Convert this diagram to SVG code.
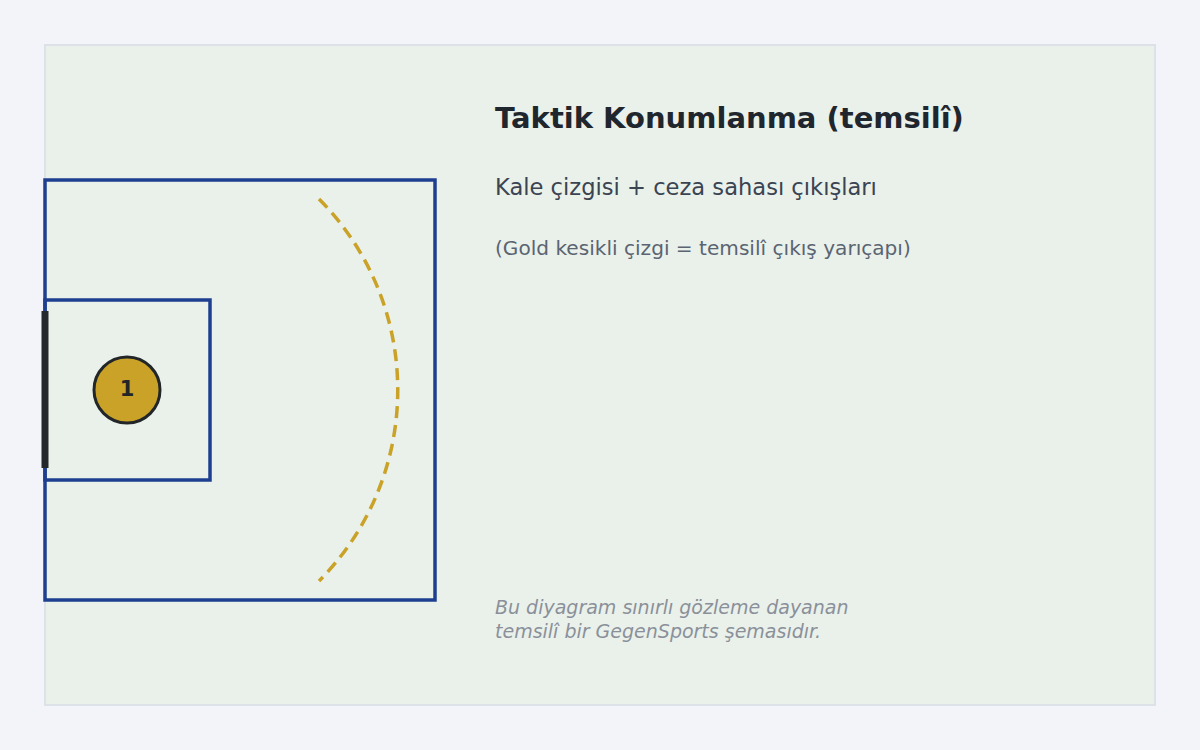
<svg xmlns="http://www.w3.org/2000/svg" width="1200" height="750" viewBox="0 0 1200 750">
<style>
.line{fill:none;stroke:#1E3F8F;stroke-width:3.5}
.t{font-family:"DejaVu Sans","Liberation Sans",sans-serif}
</style>
<rect x="0" y="0" width="1200" height="750" fill="#F3F4FA"/>
<rect x="45" y="45" width="1110" height="660" fill="#EAF1EA" stroke="#DDE1E8" stroke-width="2"/>
<g id="pitch">
<rect class="line" x="45" y="180" width="390" height="420"/>
<rect class="line" x="45" y="300" width="165" height="180"/>
<line x1="45" y1="311" x2="45" y2="468" stroke="#24272B" stroke-width="7"/>
</g>
<g id="connectors">
<path d="M 319 199 A 271 271 0 0 1 319 581" fill="none" stroke="#C9A227" stroke-width="3.5" stroke-dasharray="12 7"/>
</g>
<g id="keeper">
<circle cx="127" cy="390" r="33" fill="#C9A227" stroke="#222629" stroke-width="3"/>
<text class="t" x="127" y="396" text-anchor="middle" font-size="21" font-weight="bold" fill="#222629">1</text>
</g>
<g id="texts">
<text class="t" x="495" y="128" font-size="29" font-weight="bold" fill="#1F262E">Taktik Konumlanma (temsilî)</text>
<text class="t" x="495" y="195" font-size="22.6" fill="#3A4452">Kale çizgisi + ceza sahası çıkışları</text>
<text class="t" x="495" y="255" font-size="20.1" fill="#5A6472">(Gold kesikli çizgi = temsilî çıkış yarıçapı)</text>
<text class="t" x="495" y="614" font-size="19" font-style="italic" fill="#8A909A">Bu diyagram sınırlı gözleme dayanan</text>
<text class="t" x="495" y="638" font-size="19" font-style="italic" fill="#8A909A">temsilî bir GegenSports şemasıdır.</text>
</g>
</svg>
